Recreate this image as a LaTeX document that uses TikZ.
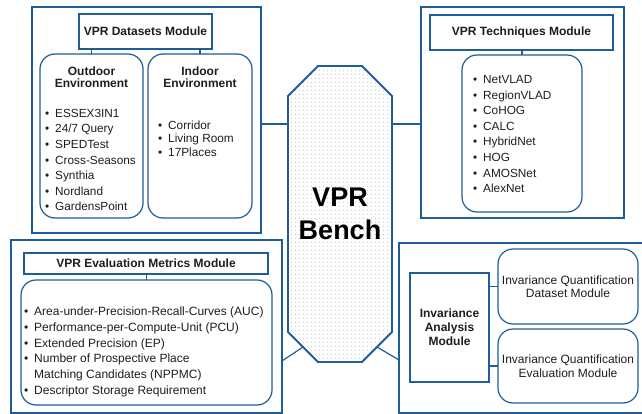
\documentclass[tikz,border=0pt]{standalone}
\usepackage{fontspec}
\setmainfont{Liberation Sans}
\usetikzlibrary{patterns.meta}
\definecolor{vblue}{RGB}{31,93,153}
\definecolor{vtext}{RGB}{30,30,30}
\newcommand{\bl}[1]{\makebox[10pt][l]{\textbullet}#1}
\newcommand{\bk}[1]{\makebox[10pt][l]{}#1}
\tikzset{
  box/.style={draw=vblue, line width=1.2pt, inner sep=0pt, outer sep=0pt, fill=white},
  rbox/.style={box, rounded corners=15pt},
  lbl/.style={inner sep=0pt, text=vtext, align=left, font=\fontsize{11.8}{15.6}\selectfont},
  ttl/.style={inner sep=0pt, text=vtext, align=center, font=\bfseries\fontsize{12}{12.5}\selectfont},
  conn/.style={draw=vblue, line width=1.2pt}
}
\begin{document}
\begin{tikzpicture}[x=1pt,y=-1pt]
\useasboundingbox (0,0) rectangle (642,414);
% Octagon
\path[draw=vblue, line width=1.8pt, pattern={Dots[distance=4pt, radius=0.55pt]}, pattern color=gray!75]
  (318,66) -- (362,66) -- (392,96) -- (392,332) -- (362,362) -- (318,362) -- (288,332) -- (288,96) -- cycle;
\node[inner sep=0pt, align=center, font=\bfseries\fontsize{27}{33}\selectfont] (bench) at (340,214) {VPR\\Bench};
\coordinate (octL) at (288,124);
\coordinate (octR) at (392,124);
\coordinate (octBL) at (303,347);
\coordinate (octBR) at (377,347);
\coordinate (evalPort) at (282,361);
\coordinate (invPort) at (399,360);

% Datasets module
\node[box, minimum width=229pt, minimum height=226pt] (dsOuter) at (146.5,120) {};
\node[box, minimum width=133pt, minimum height=35pt] (dsTitle) at (145.5,31.5) {};
\node[ttl] (dsTitleT) at (dsTitle) {VPR Datasets Module};
\node[rbox, minimum width=103pt, minimum height=164pt] (outdoor) at (91.5,136) {};
\node[rbox, minimum width=104pt, minimum height=164pt] (indoor) at (200,136) {};
\node[ttl] (outdoorT) at (91.5,77) {Outdoor\\Environment};
\node[ttl] (indoorT) at (200,77) {Indoor\\Environment};
\node[lbl, anchor=west] (outdoorL) at (45,160) {\bl{ESSEX3IN1}\\\bl{24/7 Query}\\\bl{SPEDTest}\\\bl{Cross-Seasons}\\\bl{Synthia}\\\bl{Nordland}\\\bl{GardensPoint}};
\node[lbl, anchor=west, font=\fontsize{11.8}{13.5}\selectfont] (indoorL) at (158,138.5) {\bl{Corridor}\\\bl{Living Room}\\\bl{17Places}};
\draw[conn] (dsTitle.south -| outdoor.north) -- (outdoor.north);
\draw[conn] (dsTitle.south -| indoor.north) -- (indoor.north);

% Techniques module
\node[box, minimum width=203pt, minimum height=211pt] (tcOuter) at (522.5,112.5) {};
\node[box, minimum width=183pt, minimum height=35pt] (tcTitle) at (521.5,32.5) {};
\node[ttl] (tcTitleT) at (tcTitle) {VPR Techniques Module};
\node[rbox, minimum width=120pt, minimum height=157pt] (tcList) at (522,133.5) {};
\node[lbl, anchor=west] (tcL) at (473,134) {\bl{NetVLAD}\\\bl{RegionVLAD}\\\bl{CoHOG}\\\bl{CALC}\\\bl{HybridNet}\\\bl{HOG}\\\bl{AMOSNet}\\\bl{AlexNet}};
\draw[conn] (tcTitle.south -| tcList.north) -- (tcList.north);

% Evaluation module
\node[box, minimum width=271pt, minimum height=173pt] (evOuter) at (146.5,326.5) {};
\node[box, minimum width=244pt, minimum height=21pt] (evTitle) at (146,263.5) {};
\node[ttl] (evTitleT) at (evTitle) {VPR Evaluation Metrics Module};
\node[rbox, minimum width=251pt, minimum height=125pt] (evList) at (146.5,342.5) {};
\node[lbl, anchor=west, font=\fontsize{12}{15.7}\selectfont] (evL) at (24,351.8) {\bl{Area-under-Precision-Recall-Curves (AUC)}\\\bl{Performance-per-Compute-Unit (PCU)}\\\bl{Extended Precision (EP)}\\\bl{Number of Prospective Place}\\\bk{Matching Candidates (NPPMC)}\\\bl{Descriptor Storage Requirement}};
\draw[conn] (evTitle.south -| evList.north) -- (evList.north);

% Invariance module
\node[box, minimum width=246pt, minimum height=170pt] (ivOuter) at (522,328) {};
\node[box, minimum width=79pt, minimum height=109pt] (ana) at (449.5,327.5) {};
\node[ttl, font=\bfseries\fontsize{12}{14}\selectfont] (anaT) at (ana) {Invariance\\Analysis\\Module};
\node[rbox, minimum width=140pt, minimum height=75pt] (iqd) at (568,286.5) {};
\node[rbox, minimum width=140pt, minimum height=74pt] (iqe) at (568,366) {};
\node[lbl, align=center, font=\fontsize{12}{13.5}\selectfont] (iqdT) at (iqd) {Invariance Quantification\\Dataset Module};
\node[lbl, align=center, font=\fontsize{12}{13.5}\selectfont] (iqeT) at (iqe) {Invariance Quantification\\Evaluation Module};
\draw[conn] (ana.east |- iqd.west) -- (iqd.west);
\draw[conn] (ana.east |- iqe.west) -- (iqe.west);

% Links to bench
\draw[conn] (dsOuter.east |- octL) -- (octL);
\draw[conn] (octR) -- (tcOuter.west |- octR);
\draw[conn] (evalPort) -- (octBL);
\draw[conn] (octBR) -- (invPort);
\end{tikzpicture}
\end{document}
